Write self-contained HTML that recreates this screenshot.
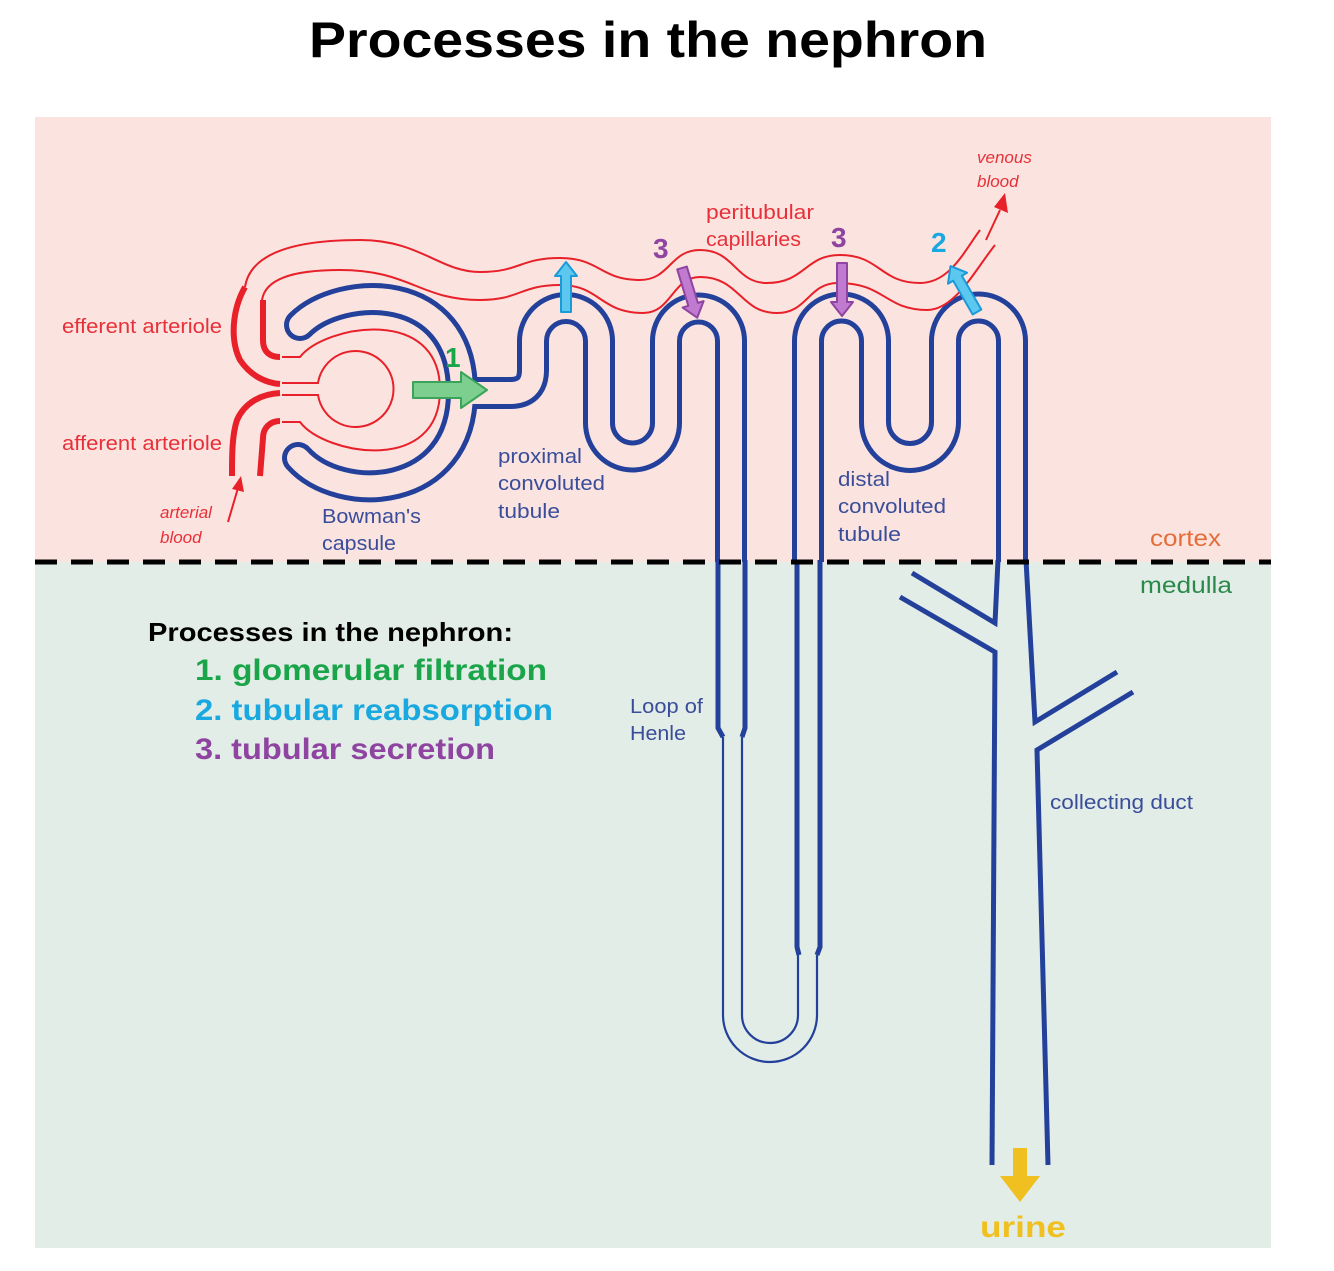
<!DOCTYPE html>
<html><head><meta charset="utf-8"><style>
html,body{margin:0;padding:0;background:#fff;}
svg{display:block;}
text{font-family:"Liberation Sans",sans-serif;}
</style></head><body>
<svg width="1334" height="1271" viewBox="0 0 1334 1271" xmlns="http://www.w3.org/2000/svg">
<rect width="1334" height="1271" fill="#fff"/>
<text x="648" y="57" text-anchor="middle" font-size="50" font-weight="bold" fill="#000" textLength="678" lengthAdjust="spacingAndGlyphs">Processes in the nephron</text>
<rect x="35" y="117" width="1236" height="445" fill="#fbe4df"/>
<rect x="35" y="562" width="1236" height="686" fill="#e3ede7"/>

<g fill="none" stroke="#23409a" stroke-width="32">
<path d="M300 325 C340 285,462 280,462 392 C462 500,340 505,298 458" stroke-linecap="round"/>
<path d="M455 393 L510 393 Q533 393 533 370 L533 341 A33 33 0 0 1 599 341 L599 423 A33.5 33.5 0 0 0 666 423 L666 341 A32.5 32.5 0 0 1 731 341 L731 562"/>
<path d="M808 562 L808 341 A33.5 33.5 0 0 1 875 341 L875 422 A35 35 0 0 0 945 422 L945 341 A33.5 33.5 0 0 1 1012 341 L1012 562"/>
</g>
<g fill="none" stroke="#fbe4df" stroke-width="22">
<path d="M300 325 C340 285,462 280,462 392 C462 500,340 505,298 458" stroke-linecap="round"/>
<path d="M455 393 L510 393 Q533 393 533 370 L533 341 A33 33 0 0 1 599 341 L599 423 A33.5 33.5 0 0 0 666 423 L666 341 A32.5 32.5 0 0 1 731 341 L731 562"/>
<path d="M808 562 L808 341 A33.5 33.5 0 0 1 875 341 L875 422 A35 35 0 0 0 945 422 L945 341 A33.5 33.5 0 0 1 1012 341 L1012 562"/>
</g>

<g fill="none" stroke="#23409a" stroke-width="5" stroke-linejoin="miter">
<path d="M718 560 L718 728 L723 737"/>
<path d="M745 560 L745 728 L742 737"/>
<path d="M797 560 L797 947 L799 955"/>
<path d="M820 560 L820 947 L817 955"/>
<path d="M998 560 L995 623 L912 573"/>
<path d="M900 597 L995 652 L992 1165"/>
<path d="M1026 560 L1035 722 L1117 672"/>
<path d="M1133 692 L1037 750 L1048 1165"/>
</g>
<g fill="none" stroke="#23409a" stroke-width="2.2">
<path d="M723 737 L723 1015 A47 47 0 0 0 817 1015 L817 955"/>
<path d="M742 737 L742 1015 A28 28 0 0 0 798 1015 L798 955"/>
</g>

<line x1="35" y1="562" x2="1271" y2="562" stroke="#000" stroke-width="5" stroke-dasharray="22 14"/>

<g fill="none" stroke="#e8202a" stroke-width="2">
<path d="M245 287 C250 255,290 240,360 240 C420 240,440 272,480 272 C520 272,520 258,560 258 C600 258,600 280,640 280 C670 280,670 250,700 250 C735 250,735 283,767 283 C805 283,805 255,840 255 C880 255,880 283,920 283 C950 283,965 250,980 230"/>
<path d="M262 300 C265 280,290 270,340 270 C410 270,420 300,480 300 C520 300,520 285,560 285 C600 285,600 313,643 313 C672 313,672 277,700 277 C740 277,740 313,777 313 C808 313,808 283,838 283 C885 283,885 310,927 310 C955 310,975 270,995 245"/>
<path d="M282 357 L300 357 C325 325,440 305,440 390 C440 475,325 455,300 422 L282 422"/>
<path d="M282 383 L318 383 A38 38 0 1 1 318 395 L282 395"/>
<path d="M986 240 L1000 210"/>
<path d="M228 522 L238 488"/>
</g>
<polygon points="1005,193 1008,213 994,207" fill="#e8202a"/>
<polygon points="241,476 244,492 232,489" fill="#e8202a"/>
<g fill="none" stroke="#e8202a" stroke-width="6">
<path d="M245 287 C232 310,230 340,240 360 C250 375,265 383,280 384"/>
<path d="M280 393 C262 394,245 402,237 420 C232 435,232 455,232 476"/>
<path d="M263 300 L263 340 C263 352,270 357,280 357"/>
<path d="M280 421 C270 421,263 428,263 438 L260 476"/>
</g>

<g stroke-width="2" stroke-linejoin="round">
<polygon transform="translate(413 390) rotate(90)" points="-8,0 -8,-48 -18,-48 0,-74 18,-48 8,-48 8,0" fill="#7dcf8f" stroke="#3aa55a"/>
<polygon transform="translate(566 312) rotate(0)" points="-5,0 -5,-36 -11,-36 0,-50 11,-36 5,-36 5,0" fill="#5cc8f0" stroke="#1a9ad8"/>
<polygon transform="translate(682 268) rotate(163)" points="-5,0 -5,-38 -11,-38 0,-52 11,-38 5,-38 5,0" fill="#c07ad0" stroke="#8e44a0"/>
<polygon transform="translate(842 263) rotate(180)" points="-5,0 -5,-39 -11,-39 0,-53 11,-39 5,-39 5,0" fill="#c07ad0" stroke="#8e44a0"/>
<polygon transform="translate(977 312) rotate(-30)" points="-5,0 -5,-39 -11,-39 0,-53 11,-39 5,-39 5,0" fill="#5cc8f0" stroke="#1a9ad8"/>
</g>
<polygon points="1013,1148 1027,1148 1027,1176 1040,1176 1020,1202 1000,1176 1013,1176" fill="#f0c020"/>

<g font-weight="bold" font-size="28">
<text x="445" y="367" fill="#1aa54a">1</text>
<text x="653" y="258" fill="#8e44a0">3</text>
<text x="831" y="247" fill="#8e44a0">3</text>
<text x="931" y="252" fill="#1aa8e0">2</text>
</g>

<g fill="#e8303a" font-size="20">
<text x="62" y="333" textLength="160" lengthAdjust="spacingAndGlyphs">efferent arteriole</text>
<text x="62" y="450" textLength="160" lengthAdjust="spacingAndGlyphs">afferent arteriole</text>
<text x="706" y="219" textLength="108" lengthAdjust="spacingAndGlyphs">peritubular</text>
<text x="706" y="246" textLength="95" lengthAdjust="spacingAndGlyphs">capillaries</text>
</g>
<g fill="#e8303a" font-size="17" font-style="italic">
<text x="160" y="518">arterial</text>
<text x="160" y="543">blood</text>
<text x="977" y="163">venous</text>
<text x="977" y="187">blood</text>
</g>

<g fill="#3a4d9a" font-size="20">
<text x="498" y="463" textLength="84" lengthAdjust="spacingAndGlyphs">proximal</text>
<text x="498" y="490" textLength="107" lengthAdjust="spacingAndGlyphs">convoluted</text>
<text x="498" y="518" textLength="62" lengthAdjust="spacingAndGlyphs">tubule</text>
<text x="322" y="523" textLength="99" lengthAdjust="spacingAndGlyphs">Bowman's</text>
<text x="322" y="550" textLength="74" lengthAdjust="spacingAndGlyphs">capsule</text>
<text x="838" y="486" textLength="52" lengthAdjust="spacingAndGlyphs">distal</text>
<text x="838" y="513" textLength="108" lengthAdjust="spacingAndGlyphs">convoluted</text>
<text x="838" y="541" textLength="63" lengthAdjust="spacingAndGlyphs">tubule</text>
<text x="630" y="713" textLength="73" lengthAdjust="spacingAndGlyphs">Loop of</text>
<text x="630" y="740" textLength="56" lengthAdjust="spacingAndGlyphs">Henle</text>
<text x="1050" y="809" textLength="143" lengthAdjust="spacingAndGlyphs">collecting duct</text>
</g>
<text x="1150" y="546" font-size="23" fill="#e56d3a" textLength="71" lengthAdjust="spacingAndGlyphs">cortex</text>
<text x="1140" y="593" font-size="23" fill="#2a8a4a" textLength="92" lengthAdjust="spacingAndGlyphs">medulla</text>

<text x="148" y="641" font-size="26" font-weight="bold" fill="#000" textLength="365" lengthAdjust="spacingAndGlyphs">Processes in the nephron:</text>
<text x="195" y="680" font-size="30" font-weight="bold" fill="#1aa54a" textLength="352" lengthAdjust="spacingAndGlyphs">1. glomerular filtration</text>
<text x="195" y="720" font-size="30" font-weight="bold" fill="#1aa8e0" textLength="358" lengthAdjust="spacingAndGlyphs">2. tubular reabsorption</text>
<text x="195" y="759" font-size="30" font-weight="bold" fill="#8e44a0" textLength="300" lengthAdjust="spacingAndGlyphs">3. tubular secretion</text>
<text x="980" y="1237" font-size="30" font-weight="bold" fill="#f0c020" textLength="86" lengthAdjust="spacingAndGlyphs">urine</text>
</svg>
</body></html>
